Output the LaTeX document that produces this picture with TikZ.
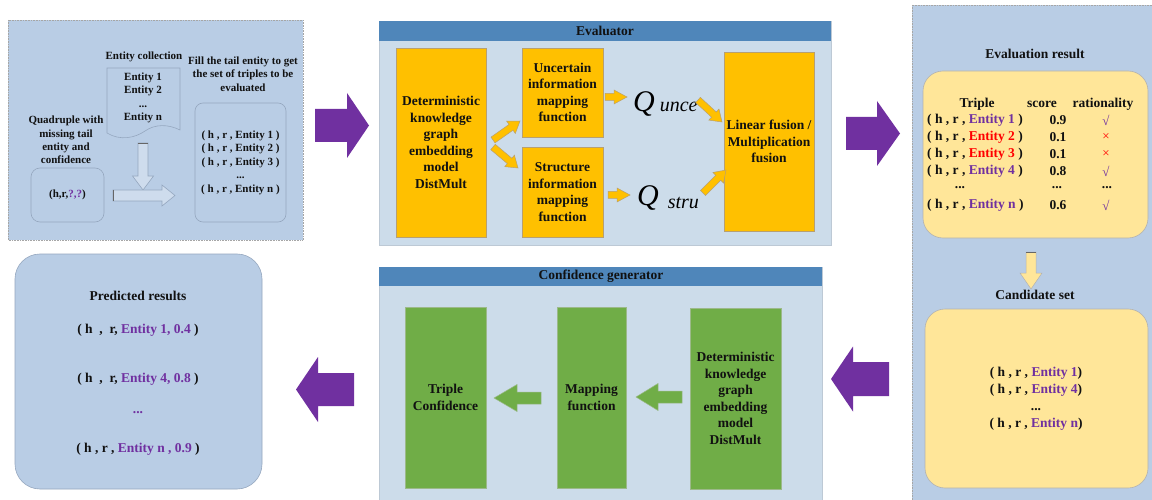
\documentclass[tikz,border=0pt]{standalone}
\usepackage{fontspec}
\setmainfont{Liberation Serif}
\usetikzlibrary{calc}
\definecolor{pblue}{HTML}{B9CDE5}
\definecolor{ebg}{HTML}{CCDCEA}
\definecolor{tbar}{HTML}{4F86BA}
\definecolor{org}{HTML}{FFC000}
\definecolor{orgline}{HTML}{B8A070}
\definecolor{grn}{HTML}{70AD47}
\definecolor{grnline}{HTML}{9CB98A}
\definecolor{purp}{HTML}{7030A0}
\definecolor{ylw}{HTML}{FFE699}
\definecolor{gline}{HTML}{95A7BF}
\definecolor{txtc}{HTML}{111111}
\newcommand{\blockarr}[6]{%
  \coordinate (ba-m) at ($(#3)!#6!(#2)$);
  \path[#1] ($(#2)!#4!90:(#3)$) -- ($(ba-m)!#4!90:(#3)$) -- ($(ba-m)!#5!90:(#3)$) -- (#3)
    -- ($(ba-m)!#5!-90:(#3)$) -- ($(ba-m)!#4!-90:(#3)$) -- ($(#2)!#4!-90:(#3)$) -- cycle;
}
\tikzset{
  txt/.style={font=\fontsize{13.5}{16.5}\selectfont\bfseries, align=center, inner sep=0pt, text=txtc},
  sm/.style={font=\fontsize{11}{13.3}\selectfont\bfseries, align=center, inner sep=0pt, text=txtc},
  obox/.style={txt, draw=orgline, line width=0.6pt, fill=org},
  gbox/.style={txt, draw=grnline, line width=0.6pt, fill=grn},
  purparr/.style={fill=purp},
  orgarr/.style={fill=org, draw=orgline, line width=0.5pt},
  grnarr/.style={fill=grn, draw=grnline, line width=0.5pt},
  hollow/.style={fill=pblue!70!white, draw=gline, line width=0.6pt},
  panel/.style={fill=pblue, draw=gray!70, densely dotted, line width=0.6pt},
  epanel/.style={fill=ebg, draw=ebg!80!gray, line width=0.4pt},
  bar/.style={fill=tbar, draw=none},
  rbox/.style={draw=gline, line width=0.6pt, rounded corners=8pt},
  ybox/.style={fill=ylw, draw=gray!60, line width=0.6pt, rounded corners=20pt},
}
\begin{document}
\begin{tikzpicture}[x=1pt,y=-1pt]
\useasboundingbox (0,0) rectangle (1152,500);
\fill[white] (0,0) rectangle (1152,500);

% ---------- panel 1 ----------
\path[panel] (8,20) rectangle (303,240);
\node[sm] (ecl) at (144,57) {Entity collection};
\path[fill=pblue, draw=gline, line width=0.6pt] (107,68) -- (180,68) -- (180,130)
  .. controls (168,124) and (155,124) .. (145,131) .. controls (135,138) and (120,141) .. (107,133) -- cycle;
\node[sm] (ents) at (143,98) {Entity 1\\Entity 2\\...\\Entity n};
\node[sm] (fill) at (243,74) {Fill the tail entity to get\\the set of triples to be\\evaluated};
\node[rbox, minimum width=91, minimum height=119] (tbox) at (240.5,162.5) {};
\node[sm, font=\fontsize{11}{13.5}\selectfont\bfseries] (tlist) at (tbox) {( h , r , Entity 1 )\\( h , r , Entity 2 )\\( h , r , Entity 3 )\\...\\( h , r , Entity n )};
\node[sm] (qtxt) at (66,140) {Quadruple with\\missing tail\\entity and\\confidence};
\node[rbox, minimum width=73, minimum height=54, rounded corners=9pt] (qbox) at (67.5,195) {};
\node[sm] (qin) at (qbox) {(h,r,\textcolor{purp}{?,?})};
\coordinate (h1t) at (143,143); \coordinate (h1h) at (143,190);
\blockarr{hollow}{h1t}{h1h}{5pt}{10.5pt}{14pt}
\coordinate (h2t) at (113,195.5); \coordinate (h2h) at (175,195.5);
\blockarr{hollow}{h2t}{h2h}{5.5pt}{10.5pt}{13pt}
\draw[gray!80!black, line width=1.5pt] (138,143.5) -- (148,143.5);
\draw[gray!80!black, line width=1.5pt] (113.5,190) -- (113.5,201);

% ---------- big arrow 1 ----------
\coordinate (a1t) at (315,125.5); \coordinate (a1h) at (369,125.5);
\blockarr{purparr}{a1t}{a1h}{16.5pt}{32.5pt}{22pt}

% ---------- evaluator ----------
\path[epanel] (379,21) rectangle (831,245);
\path[bar] (379,21) rectangle (831,41);
\node[txt] (evt) at (605,31) {Evaluator};
\node[obox, minimum width=90, minimum height=189] (dkg1) at (441,142.5) {Deterministic\\knowledge\\graph\\embedding\\model\\DistMult};
\node[obox, minimum width=81, minimum height=89] (unc) at (562.5,92.5) {Uncertain\\information\\mapping\\function};
\node[obox, minimum width=81, minimum height=90] (str) at (562.5,192) {Structure\\information\\mapping\\function};
\node[obox, minimum width=90, minimum height=179] (lin) at (769,141.5) {Linear fusion /\\Multiplication\\fusion};
\node[anchor=base west, inner sep=0pt] (qu) at (633,112) {\fontsize{30}{30}\selectfont\itshape Q\hspace{5pt}\fontsize{20}{20}\selectfont unce};
\node[anchor=base west, inner sep=0pt] (qs) at (637,205) {\fontsize{30}{30}\selectfont\itshape Q\hspace{9pt}\raisebox{-3pt}{\fontsize{20}{20}\selectfont stru}};
\coordinate (o1t) at (493,140); \coordinate (o1h) at (520,121);
\blockarr{orgarr}{o1t}{o1h}{3.5pt}{7.5pt}{11pt}
\coordinate (o2t) at (493,147); \coordinate (o2h) at (518,168);
\blockarr{orgarr}{o2t}{o2h}{3.5pt}{7.5pt}{11pt}
\coordinate (o3t) at (605,97); \coordinate (o3h) at (627,97);
\blockarr{orgarr}{o3t}{o3h}{3.5pt}{7pt}{13pt}
\coordinate (o4t) at (608,195); \coordinate (o4h) at (630,195);
\blockarr{orgarr}{o4t}{o4h}{3.5pt}{7pt}{13pt}
\coordinate (o5t) at (698,100); \coordinate (o5h) at (722,122);
\blockarr{orgarr}{o5t}{o5h}{3.5pt}{7.5pt}{11pt}
\coordinate (o6t) at (703,193); \coordinate (o6h) at (726,170);
\blockarr{orgarr}{o6t}{o6h}{3.5pt}{7.5pt}{11pt}

% ---------- big arrow 2 ----------
\coordinate (a2t) at (846,133.5); \coordinate (a2h) at (900,133.5);
\blockarr{purparr}{a2t}{a2h}{16.5pt}{32.5pt}{23pt}

% ---------- evaluation result panel ----------
\path[panel] (912,5) rectangle (1160,505);
\node[txt] (ert) at (1035,54) {Evaluation result};
\path[ybox] (923,71) rectangle (1148,238);
\node[txt] (hT) at (977,104) {Triple};
\node[txt] (hS) at (1042,104) {score};
\node[txt] (hR) at (1103,104) {rationality};
\foreach \yy/\nn/\cc/\ss/\mm/\mc in {120/1/purp/0.9/√/purp, 137/2/red/0.1/×/red, 154/3/red/0.1/×/red, 171/4/purp/0.8/√/purp, 205/n/purp/0.6/√/purp}{
  \node[txt, anchor=west] at (927,\yy) {( h , r , \textcolor{\cc}{Entity \nn} )};
  \node[txt] at (1058,\yy) {\ss};
  \node[txt, text=\mc, font=\fontsize{13}{14}\selectfont] at (1106,\yy) {\mm};
}
\node[txt] (d1) at (960,188) {...};
\node[txt] (d2) at (1057,188) {...};
\node[txt] (d3) at (1107,188) {...};
\coordinate (yt) at (1031,252); \coordinate (yh) at (1031,289);
\blockarr{fill=ylw, draw=gray!60, line width=0.5pt}{yt}{yh}{5pt}{11pt}{16pt}
\draw[gray!80!black, line width=1.2pt] (1026,252.5) -- (1036,252.5);
\node[txt] (cst) at (1035,295) {Candidate set};
\path[ybox] (925,309) rectangle (1148,488);
\node[txt, font=\fontsize{13.5}{17}\selectfont\bfseries] (cand) at (1036,398.5) {( h , r , \textcolor{purp}{Entity 1})\\( h , r , \textcolor{purp}{Entity 4})\\...\\( h , r , \textcolor{purp}{Entity n})};

% ---------- big arrow 3 ----------
\coordinate (a3t) at (889,379); \coordinate (a3h) at (831,379);
\blockarr{purparr}{a3t}{a3h}{17pt}{32.5pt}{22pt}

% ---------- confidence generator ----------
\path[epanel] (379,267) rectangle (822,505);
\path[bar] (379,267) rectangle (822,286);
\node[txt] (cgt) at (601,276.5) {Confidence generator};
\node[gbox, minimum width=81, minimum height=181] (tc) at (445.5,397.5) {Triple\\Confidence};
\node[gbox, minimum width=69, minimum height=181] (mf) at (591.5,397.5) {Mapping\\function};
\node[gbox, minimum width=91, minimum height=181] (dkg2) at (735.5,398.5) {Deterministic\\knowledge\\graph\\embedding\\model\\DistMult};
\coordinate (g1t) at (541,398); \coordinate (g1h) at (494,398);
\blockarr{grnarr}{g1t}{g1h}{6pt}{13.5pt}{23pt}
\coordinate (g2t) at (682,397); \coordinate (g2h) at (636,397);
\blockarr{grnarr}{g2t}{g2h}{6pt}{13.5pt}{22pt}

% ---------- big arrow 4 ----------
\coordinate (a4t) at (354,389.5); \coordinate (a4h) at (296,389.5);
\blockarr{purparr}{a4t}{a4h}{16.5pt}{32.5pt}{22pt}

% ---------- predicted results ----------
\path[fill=pblue, draw=gline, line width=0.6pt, rounded corners=25pt] (15,254) rectangle (262,489);
\node[txt] (prt) at (138,296) {Predicted results};
\node[txt] (p1) at (138,330) {( h \ , \ r, \textcolor{purp}{Entity 1, 0.4} )};
\node[txt] (p2) at (138,379) {( h \ , \ r, \textcolor{purp}{Entity 4, 0.8} )};
\node[txt, text=purp] (p3) at (138,413) {...};
\node[txt] (p4) at (138,449) {( h , r , \textcolor{purp}{Entity n , 0.9} )};
\end{tikzpicture}
\end{document}
